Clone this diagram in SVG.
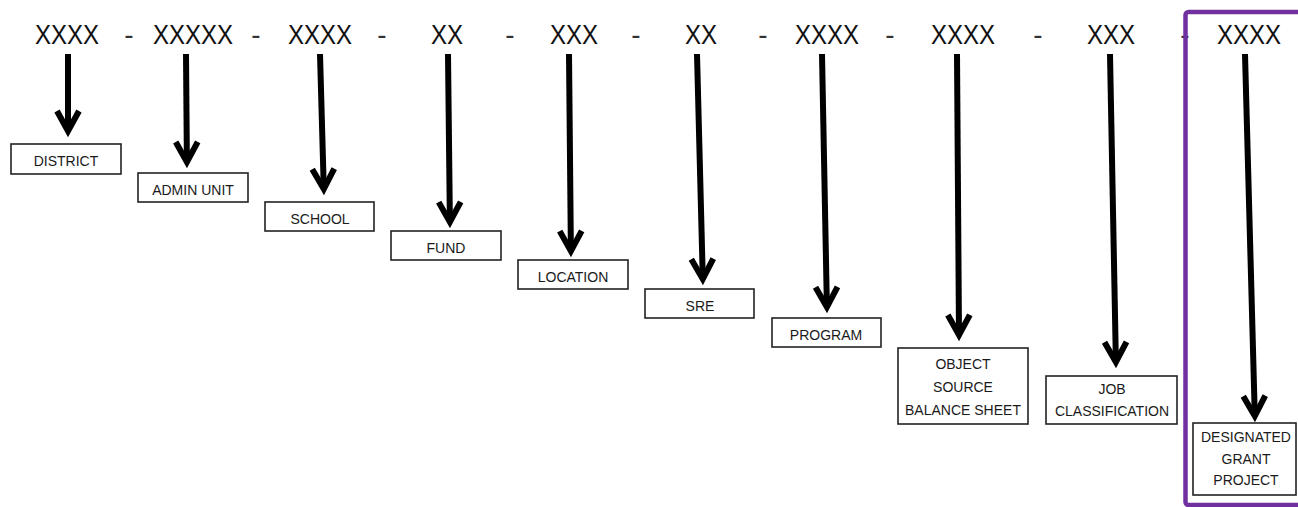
<svg xmlns="http://www.w3.org/2000/svg" width="1298" height="507" viewBox="0 0 1298 507">
<style>
.hdr{font-family:"Liberation Sans",Arial,sans-serif;font-size:28px;fill:#111;text-anchor:middle}
.dash{font-family:"Liberation Sans",Arial,sans-serif;font-size:28px;fill:#333;text-anchor:middle}
.box{fill:#fff;stroke:#222;stroke-width:1.6}
.lbl{font-family:"Liberation Sans",Arial,sans-serif;font-size:14px;fill:#1a1a1a;text-anchor:middle}
.arr{fill:none;stroke:#000;stroke-width:6;marker-end:url(#head)}
</style>
<defs>
<marker id="head" markerUnits="userSpaceOnUse" orient="auto" refX="0" refY="0" markerWidth="40" markerHeight="40" overflow="visible">
<path d="M-20,-11 L0,0 L-20,11" fill="none" stroke="#000" stroke-width="6" stroke-linejoin="miter" stroke-miterlimit="10"/>
</marker>
</defs>
<rect width="1298" height="507" fill="#fff"/>
<g id="separators">
<text class="dash" x="129" y="44">-</text>
<text class="dash" x="256" y="44">-</text>
<text class="dash" x="382" y="44">-</text>
<text class="dash" x="510" y="44">-</text>
<text class="dash" x="636" y="44">-</text>
<text class="dash" x="763" y="44">-</text>
<text class="dash" x="890" y="44">-</text>
<text class="dash" x="1038" y="44">-</text>
<text class="dash" x="1185" y="44">-</text>
</g>
<g id="highlight">
<rect x="1185.5" y="12" width="130" height="493" rx="3" fill="none" stroke="#7030A0" stroke-width="4.5"/>
</g>
<g id="connectors">
<path class="arr" d="M68,54 L68,131"/>
<path class="arr" d="M186,54 L186.9,162"/>
<path class="arr" d="M320,54 L323.8,189"/>
<path class="arr" d="M448,54 L449.9,222"/>
<path class="arr" d="M569,54 L570.9,251"/>
<path class="arr" d="M697,54 L702.8,279"/>
<path class="arr" d="M822,54 L826.9,307"/>
<path class="arr" d="M957,54 L959,335"/>
<path class="arr" d="M1110,54 L1115.9,362"/>
<path class="arr" d="M1245,54 L1254.8,416"/>
</g>
<g id="district">
<text class="hdr" x="67" y="44" textLength="64" lengthAdjust="spacingAndGlyphs">XXXX</text>
<rect class="box" x="11" y="144" width="110" height="30"/>
<text class="lbl" x="66" y="166">DISTRICT</text>
</g>
<g id="admin-unit">
<text class="hdr" x="193" y="44" textLength="80" lengthAdjust="spacingAndGlyphs">XXXXX</text>
<rect class="box" x="138" y="173" width="110" height="29"/>
<text class="lbl" x="193" y="195">ADMIN UNIT</text>
</g>
<g id="school">
<text class="hdr" x="320" y="44" textLength="64" lengthAdjust="spacingAndGlyphs">XXXX</text>
<rect class="box" x="265" y="202" width="109" height="29"/>
<text class="lbl" x="320" y="224">SCHOOL</text>
</g>
<g id="fund">
<text class="hdr" x="447" y="44" textLength="32" lengthAdjust="spacingAndGlyphs">XX</text>
<rect class="box" x="391" y="231" width="110" height="29"/>
<text class="lbl" x="446" y="253">FUND</text>
</g>
<g id="location">
<text class="hdr" x="574" y="44" textLength="48" lengthAdjust="spacingAndGlyphs">XXX</text>
<rect class="box" x="518" y="260" width="110" height="29"/>
<text class="lbl" x="573" y="282">LOCATION</text>
</g>
<g id="sre">
<text class="hdr" x="701" y="44" textLength="32" lengthAdjust="spacingAndGlyphs">XX</text>
<rect class="box" x="645" y="289" width="109" height="29"/>
<text class="lbl" x="700" y="311">SRE</text>
</g>
<g id="program">
<text class="hdr" x="827" y="44" textLength="64" lengthAdjust="spacingAndGlyphs">XXXX</text>
<rect class="box" x="772" y="318" width="109" height="29"/>
<text class="lbl" x="826" y="340">PROGRAM</text>
</g>
<g id="object-source">
<text class="hdr" x="963" y="44" textLength="64" lengthAdjust="spacingAndGlyphs">XXXX</text>
<rect class="box" x="898" y="348" width="130" height="76"/>
<text class="lbl" x="963" y="369">OBJECT</text>
<text class="lbl" x="963" y="392">SOURCE</text>
<text class="lbl" x="963" y="415">BALANCE SHEET</text>
</g>
<g id="job-classification">
<text class="hdr" x="1111" y="44" textLength="48" lengthAdjust="spacingAndGlyphs">XXX</text>
<rect class="box" x="1046" y="376" width="131" height="48"/>
<text class="lbl" x="1112" y="394">JOB</text>
<text class="lbl" x="1112" y="416">CLASSIFICATION</text>
</g>
<g id="designated-grant-project">
<text class="hdr" x="1249" y="44" textLength="64" lengthAdjust="spacingAndGlyphs">XXXX</text>
<rect class="box" x="1193" y="423" width="103" height="72"/>
<text class="lbl" x="1246" y="442">DESIGNATED</text>
<text class="lbl" x="1246" y="464">GRANT</text>
<text class="lbl" x="1246" y="485">PROJECT</text>
</g>
</svg>
